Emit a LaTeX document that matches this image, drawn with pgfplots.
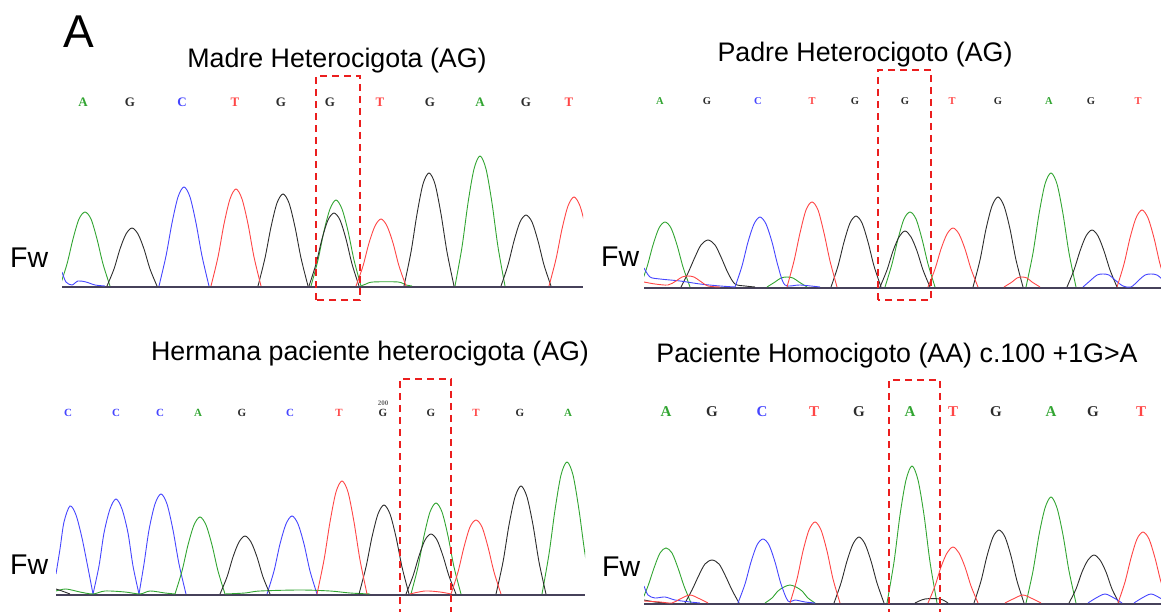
\documentclass[border=0pt]{standalone}
\usepackage{pgfplots}
\pgfplotsset{compat=1.18}
\usepackage{fontspec}
\setmainfont{Liberation Sans}
\newfontfamily\serif{Liberation Serif}
\definecolor{cg}{RGB}{50,165,50}
\definecolor{ck}{RGB}{45,45,45}
\definecolor{cb}{RGB}{70,70,255}
\definecolor{cr}{RGB}{255,70,70}
\definecolor{bx}{RGB}{235,30,30}
\definecolor{bline}{RGB}{70,65,90}
\pgfplotsset{
  trace/.style={axis lines=none, ticks=none, x=1pt, y=1pt, ymin=-6, ymax=160, anchor=south west},
  g/.style={cg, line width=0.9pt, smooth},
  k/.style={ck, line width=0.9pt, smooth},
  b/.style={cb, line width=0.9pt, smooth},
  r/.style={cr, line width=0.9pt, smooth},
  bl/.style={bline, line width=2.2pt},
}
\newcommand{\lt}[5]{\node[text=#3, font=\serif\bfseries\fontsize{#5}{#5}\selectfont] at (#1pt,#2pt) {#4};}
\begin{document}
\begin{tikzpicture}
\useasboundingbox (0pt,0pt) rectangle (1161pt,612pt);
% ---------------- Panel 1: Madre ----------------
\begin{axis}[trace, xmin=62, xmax=583, at={(62pt,320pt)}]
\addplot[bl] coordinates {(62,-0.8)(583,-0.8)};
\addplot[g] coordinates {(60,0)(67,22)(73,47)(79,67)(85,74)(91,67)(97,47)(103,22)(110,0)};
\addplot[g] coordinates {(311,0)(318,26)(324,55)(330,77)(336,86)(342,77)(348,55)(354,26)(361,0)};
\addplot[g] coordinates {(361,0)(366,2)(373,4)(398,4)(406,1)(412,0)};
\addplot[g] coordinates {(455,0)(462,39)(468,83)(474,117)(480,130)(486,117)(492,83)(498,39)(505,0)};
\addplot[k] coordinates {(107,0)(114,17)(120,37)(126,52)(132,58)(138,52)(144,37)(150,17)(157,0)};
\addplot[k] coordinates {(258,0)(265,28)(271,59)(277,83)(283,92)(289,83)(295,59)(301,28)(308,0)};
\addplot[k] coordinates {(309,0)(316,22)(322,47)(328,66)(334,73)(340,66)(346,47)(352,22)(359,0)};
\addplot[k] coordinates {(404,0)(411,34)(417,72)(423,102)(429,113)(435,102)(441,72)(447,34)(454,0)};
\addplot[k] coordinates {(501,0)(508,21)(514,45)(520,64)(526,71)(532,64)(538,45)(544,21)(551,0)};
\addplot[b] coordinates {(62,14)(66,4)(72,1)(78,5)(86,4)(95,1)(105,0)};
\addplot[b] coordinates {(159,0)(166,30)(172,63)(178,89)(184,99)(190,89)(196,63)(202,30)(209,0)};
\addplot[r] coordinates {(211,0)(218,29)(224,62)(230,87)(236,97)(242,87)(248,62)(254,29)(261,0)};
\addplot[r] coordinates {(356,0)(363,20)(369,43)(375,60)(381,67)(387,60)(393,43)(399,20)(406,0)};
\addplot[r] coordinates {(549,0)(556,27)(562,57)(568,80)(574,89)(580,80)(586,57)(592,27)(599,0)};
\end{axis}
% ---------------- Panel 2: Padre ----------------
\begin{axis}[trace, xmin=644, xmax=1161, at={(644pt,319pt)}]
\addplot[bl] coordinates {(644,-0.8)(1161,-0.8)};
\addplot[g] coordinates {(640,0)(647,20)(653,42)(659,59)(665,65)(671,59)(677,42)(683,20)(690,0)};
\addplot[g] coordinates {(767,0)(775,5)(781,9)(787,10)(793,9)(799,5)(807,0)};
\addplot[g] coordinates {(885,0)(892,23)(898,48)(904,68)(910,75)(916,68)(922,48)(928,23)(935,0)};
\addplot[g] coordinates {(1026,0)(1033,34)(1039,73)(1045,103)(1051,114)(1057,103)(1063,73)(1069,34)(1076,0)};
\addplot[k] coordinates {(681,0)(688,14)(695,30)(701,42)(708,47)(715,42)(721,30)(728,14)(735,3)(745,1)(755,0)};
\addplot[k] coordinates {(831,0)(838,21)(844,45)(850,64)(856,71)(862,64)(868,45)(874,21)(881,0)};
\addplot[k] coordinates {(880,0)(887,17)(893,36)(899,50)(905,56)(911,50)(917,36)(923,17)(930,0)};
\addplot[k] coordinates {(973,0)(980,27)(986,58)(992,81)(998,90)(1004,81)(1010,58)(1016,27)(1023,0)};
\addplot[k] coordinates {(1067,0)(1074,17)(1080,36)(1086,51)(1092,57)(1098,51)(1104,36)(1110,17)(1117,0)};
\addplot[b] coordinates {(644,19)(650,10)(660,8)(680,6)(700,3)(720,1)(735,0)};
\addplot[b] coordinates {(735,0)(742,21)(748,45)(754,63)(760,70)(766,63)(772,45)(778,21)(785,2)(800,2)(820,0)};
\addplot[b] coordinates {(1083,0)(1091,7)(1097,12)(1103,13)(1109,12)(1115,7)(1123,1)(1131,0)(1139,7)(1145,12)(1151,13)(1157,12)(1163,7)};
\addplot[r] coordinates {(644,5)(655,3)(668,2)(676,6)(682,10)(688,11)(694,10)(700,6)(708,1)(720,0)};
\addplot[r] coordinates {(787,0)(794,26)(800,54)(806,77)(812,85)(818,77)(824,54)(830,26)(837,0)};
\addplot[r] coordinates {(928,0)(935,18)(941,38)(947,53)(953,59)(959,53)(965,38)(971,18)(978,0)};
\addplot[r] coordinates {(1004,0)(1012,5)(1017,9)(1022,10)(1027,9)(1032,5)(1040,0)};
\addplot[r] coordinates {(1117,0)(1124,23)(1130,49)(1136,69)(1142,77)(1148,69)(1154,49)(1160,23)(1167,0)};
\end{axis}
% ---------------- Panel 3: Hermana ----------------
\begin{axis}[trace, xmin=56, xmax=585, at={(56pt,12pt)}]
\addplot[bl] coordinates {(56,-0.8)(585,-0.8)};
\addplot[b] coordinates {(56,20)(60,45)(64,72)(70,88)(76,79)(82,56)(88,26)(93,0)};
\addplot[b] coordinates {(93,0)(99,28)(104,61)(110,85)(116,95)(122,85)(128,61)(133,28)(139,0)};
\addplot[b] coordinates {(139,0)(144,30)(149,64)(155,90)(161,100)(167,90)(173,64)(179,30)(186,0)};
\addplot[b] coordinates {(267,0)(274,23)(280,50)(286,70)(292,78)(298,70)(304,50)(310,23)(317,0)};
\addplot[g] coordinates {(56,3)(66,5)(80,2)(93,0)(105,3)(125,2)(140,0)(150,3)(165,1)(175,0)};
\addplot[g] coordinates {(175,0)(182,23)(188,49)(194,69)(200,77)(206,69)(212,49)(218,23)(225,0)};
\addplot[g] coordinates {(225,0)(245,1)(260,3)(300,4)(330,3)(350,1)(370,0)};
\addplot[g] coordinates {(411,0)(418,27)(424,58)(430,82)(436,91)(442,82)(448,58)(454,27)(461,0)};
\addplot[g] coordinates {(542,0)(549,40)(555,84)(561,119)(567,132)(573,119)(579,84)(585,40)(592,0)};
\addplot[k] coordinates {(56,5)(62,3)(70,0)};
\addplot[k] coordinates {(220,0)(227,17)(233,37)(239,52)(245,58)(251,52)(257,37)(263,17)(270,0)};
\addplot[k] coordinates {(359,0)(366,27)(372,57)(378,80)(384,89)(390,80)(396,57)(402,27)(409,0)};
\addplot[k] coordinates {(406,0)(413,18)(419,38)(425,54)(431,60)(437,54)(443,38)(449,18)(456,0)};
\addplot[k] coordinates {(496,0)(503,32)(509,69)(515,97)(521,108)(527,97)(533,69)(539,32)(546,0)};
\addplot[r] coordinates {(317,0)(324,34)(330,72)(336,102)(342,113)(348,102)(354,72)(360,34)(367,0)};
\addplot[r] coordinates {(410,0)(425,3)(440,2)(451,0)};
\addplot[r] coordinates {(451,0)(458,22)(464,47)(470,67)(476,74)(482,67)(488,47)(494,22)(501,0)};
\end{axis}
% ---------------- Panel 4: Paciente ----------------
\begin{axis}[trace, xmin=644, xmax=1161, at={(644pt,3pt)}]
\addplot[bl] coordinates {(644,-0.8)(1161,-0.8)};
\addplot[g] coordinates {(641,0)(648,17)(654,35)(660,50)(666,55)(672,50)(678,35)(684,17)(691,0)};
\addplot[g] coordinates {(765,0)(772,5)(778,12)(784,16)(790,18)(796,16)(802,12)(808,5)(815,0)};
\addplot[g] coordinates {(887,0)(894,41)(900,88)(906,123)(912,137)(918,123)(924,88)(930,41)(937,0)};
\addplot[g] coordinates {(1026,0)(1033,32)(1039,68)(1045,95)(1051,106)(1057,95)(1063,68)(1069,32)(1076,0)};
\addplot[k] coordinates {(644,3)(655,1)(665,0)};
\addplot[k] coordinates {(685,0)(692,13)(699,28)(705,39)(712,43)(719,39)(725,28)(732,13)(739,0)};
\addplot[k] coordinates {(834,0)(841,20)(847,42)(853,59)(859,66)(865,59)(871,42)(877,20)(884,0)};
\addplot[k] coordinates {(915,0)(925,4)(940,4)(948,0)};
\addplot[k] coordinates {(974,0)(981,22)(987,47)(993,66)(999,73)(1005,66)(1011,47)(1017,22)(1024,0)};
\addplot[k] coordinates {(1069,0)(1076,14)(1082,31)(1088,43)(1094,48)(1100,43)(1106,31)(1112,14)(1119,0)};
\addplot[b] coordinates {(644,17)(648,8)(655,5)(665,6)(675,3)(690,1)(700,0)};
\addplot[b] coordinates {(738,0)(745,19)(751,41)(757,58)(763,64)(769,58)(775,41)(781,19)(788,2)(795,3)(805,1)(815,0)};
\addplot[b] coordinates {(1088,0)(1096,5)(1105,9)(1114,5)(1122,0)};
\addplot[b] coordinates {(1134,0)(1142,5)(1151,9)(1160,5)(1168,0)};
\addplot[r] coordinates {(644,2)(660,1)(672,0)(680,4)(690,8)(700,4)(708,0)};
\addplot[r] coordinates {(790,0)(797,24)(803,52)(809,73)(815,81)(821,73)(827,52)(833,24)(840,0)};
\addplot[r] coordinates {(928,0)(935,17)(941,36)(947,50)(953,56)(959,50)(965,36)(971,17)(978,0)};
\addplot[r] coordinates {(1005,0)(1013,4)(1023,8)(1033,4)(1041,0)};
\addplot[r] coordinates {(1118,0)(1125,21)(1131,45)(1137,64)(1143,71)(1149,64)(1155,45)(1161,21)(1168,0)};
\end{axis}
% ---------------- Texts ----------------
\node[anchor=base, font=\fontsize{46}{46}\selectfont] at (79pt,564pt) {A};
\node[anchor=base, font=\fontsize{26.8}{30}\selectfont] at (337pt,544pt) {Madre Heterocigota (AG)};
\node[anchor=base, font=\fontsize{26.8}{30}\selectfont] at (865pt,550pt) {Padre Heterocigoto (AG)};
\node[anchor=base, font=\fontsize{26.8}{30}\selectfont] at (370pt,251pt) {Hermana paciente heterocigota (AG)};
\node[anchor=base, font=\fontsize{26.8}{30}\selectfont] at (897pt,249pt) {Paciente Homocigoto (AA) c.100 +1G>A};
\node[anchor=base west, inner sep=0pt, font=\fontsize{28.5}{30}\selectfont] at (10pt,344pt) {Fw};
\node[anchor=base west, inner sep=0pt, font=\fontsize{28.5}{30}\selectfont] at (601pt,345pt) {Fw};
\node[anchor=base west, inner sep=0pt, font=\fontsize{28.5}{30}\selectfont] at (10pt,37pt) {Fw};
\node[anchor=base west, inner sep=0pt, font=\fontsize{28.5}{30}\selectfont] at (602pt,35pt) {Fw};
% base letters panel 1
\lt{83}{510}{cg}{A}{13}\lt{130}{510}{ck}{G}{13}\lt{182}{510}{cb}{C}{13}\lt{235}{510}{cr}{T}{13}
\lt{281}{510}{ck}{G}{13}\lt{330}{510}{ck}{G}{13}\lt{380}{510}{cr}{T}{13}\lt{430}{510}{ck}{G}{13}
\lt{480}{510}{cg}{A}{13}\lt{526}{510}{ck}{G}{13}\lt{569}{510}{cr}{T}{13}
% panel 2
\lt{660}{511}{cg}{A}{10.5}\lt{707}{511}{ck}{G}{10.5}\lt{758}{511}{cb}{C}{10.5}\lt{812}{511}{cr}{T}{10.5}
\lt{855}{511}{ck}{G}{10.5}\lt{905}{511}{ck}{G}{10.5}\lt{952}{511}{cr}{T}{10.5}\lt{998}{511}{ck}{G}{10.5}
\lt{1049}{511}{cg}{A}{10.5}\lt{1091}{511}{ck}{G}{10.5}\lt{1138}{511}{cr}{T}{10.5}
% panel 3
\lt{68}{199}{cb}{C}{11}\lt{116}{199}{cb}{C}{11}\lt{160}{199}{cb}{C}{11}\lt{198}{199}{cg}{A}{11}
\lt{242}{199}{ck}{G}{11}\lt{290}{199}{cb}{C}{11}\lt{339}{199}{cr}{T}{11}\lt{383}{199}{ck}{G}{11}
\lt{431}{199}{ck}{G}{11}\lt{476}{199}{cr}{T}{11}\lt{520}{199}{ck}{G}{11}\lt{568}{199}{cg}{A}{11}
\lt{383}{209}{black!60}{200}{7}
% panel 4
\lt{666}{200}{cg}{A}{15}\lt{712}{200}{ck}{G}{15}\lt{762}{200}{cb}{C}{15}\lt{814}{200}{cr}{T}{15}
\lt{859}{200}{ck}{G}{15}\lt{910}{200}{cg}{A}{15}\lt{953}{200}{cr}{T}{15}\lt{996}{200}{ck}{G}{15}
\lt{1051}{200}{cg}{A}{15}\lt{1093}{200}{ck}{G}{15}\lt{1141}{200}{cr}{T}{15}
% red dashed boxes
\draw[bx, line width=2.4pt, dash pattern=on 7pt off 5pt] (316pt,312pt) rectangle (360pt,536pt);
\draw[bx, line width=2.4pt, dash pattern=on 7pt off 5pt] (878pt,312pt) rectangle (931pt,542pt);
\draw[bx, line width=2.4pt, dash pattern=on 7pt off 5pt] (400pt,-4pt) -- (400pt,233pt) -- (451pt,233pt) -- (451pt,-4pt);
\draw[bx, line width=2.4pt, dash pattern=on 7pt off 5pt] (889pt,-4pt) -- (889pt,232pt) -- (940pt,232pt) -- (940pt,-4pt);
\end{tikzpicture}
\end{document}
